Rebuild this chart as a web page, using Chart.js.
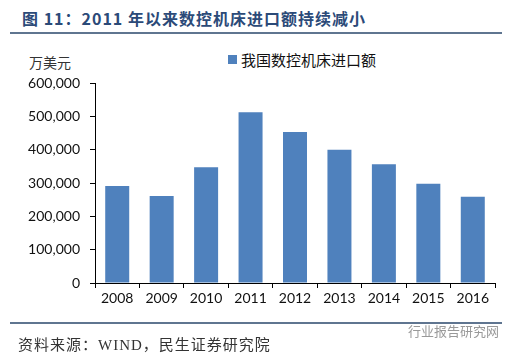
<!DOCTYPE html>
<html>
<head>
<meta charset="utf-8">
<script src="https://cdn.jsdelivr.net/npm/chart.js@4.4.1/dist/chart.umd.min.js"></script>
<style>
  html, body { margin: 0; padding: 0; background: #fff; }
  #wrap { position: relative; width: 512px; height: 361px; overflow: hidden; }
  #wrap canvas { position: absolute; left: 0; top: 0; }
  .title { position: absolute; left: 22px; top: 6px; font: bold 16px "Noto Sans CJK SC", sans-serif; color: #2b4a78; letter-spacing: 1px; }
  .rule { position: absolute; left: 10px; width: 492px; height: 2px; background: #5f7590; }
  .unit { position: absolute; left: 29px; top: 52px; font: 14px "Noto Sans CJK SC", sans-serif; color: #333; }
  .legend { position: absolute; left: 228px; top: 49px; font: 15px "Noto Sans CJK SC", sans-serif; color: #111; display: flex; align-items: center; }
  .legend i { display: inline-block; width: 9px; height: 9px; margin-right: 4px; }
  .source { position: absolute; left: 18px; top: 333px; font: 15px "Liberation Serif", "Noto Sans CJK SC", serif; color: #333; letter-spacing: 1px; }
  .mark { position: absolute; left: 408px; top: 321px; font: 13px "Noto Sans CJK SC", sans-serif; color: #999; }
</style>
</head>
<body>
<div id="wrap">
  <div class="title">图 11：2011 年以来数控机床进口额持续减小</div>
  <div class="rule" style="top:32px"></div>
  <div class="unit">万美元</div>
  <div class="legend" id="legend"></div>
  <canvas id="chart" width="512" height="361"></canvas>
  <div class="rule" style="top:322px"></div>
  <div class="source">资料来源：WIND，民生证券研究院</div>
  <div class="mark">行业报告研究网</div>
</div>
<script>
// 数据
const years = ['2008', '2009', '2010', '2011', '2012', '2013', '2014', '2015', '2016'];
const importValues = [291000, 261000, 347000, 512000, 453000, 400000, 356000, 298000, 259000];
const yTicks = [0, 100000, 200000, 300000, 400000, 500000, 600000];
const seriesName = '我国数控机床进口额';
const barColor = '#4f81bd';

const tickFont = { family: 'Lato, "Open Sans", sans-serif', size: 14 };

const chart = new Chart(document.getElementById('chart'), {
    type: 'bar',
    data: {
        labels: years,
        datasets: [{
            label: seriesName,
            data: importValues,
            backgroundColor: barColor,
            barPercentage: 0.54,
            categoryPercentage: 1
        }]
    },
    options: {
        responsive: false,
        animation: false,
        layout: { padding: { top: 83, right: 17, bottom: 48, left: 0 } },
        plugins: { legend: { display: false }, tooltip: { enabled: false } },
        scales: {
            x: {
                grid: { drawOnChartArea: false, color: '#000', tickLength: 5, offset: true },
                border: { color: '#000', width: 1 },
                ticks: { color: '#111', font: tickFont, padding: 2 },
                afterFit: s => { s.height = 30; }
            },
            y: {
                min: 0,
                max: 600000,
                afterBuildTicks: s => { s.ticks = yTicks.map(v => ({ value: v })); },
                grid: { drawOnChartArea: false, color: '#000', tickLength: 5 },
                border: { color: '#000', width: 1 },
                ticks: {
                    color: '#111',
                    font: tickFont,
                    padding: 10,
                    callback: v => v.toLocaleString('en-US')
                },
                afterFit: s => { s.width = 95; }
            }
        }
    }
});

// 图例
const lg = document.getElementById('legend');
lg.innerHTML = `<i style="background:${barColor}"></i>${seriesName}`;
</script>
</body>
</html>
